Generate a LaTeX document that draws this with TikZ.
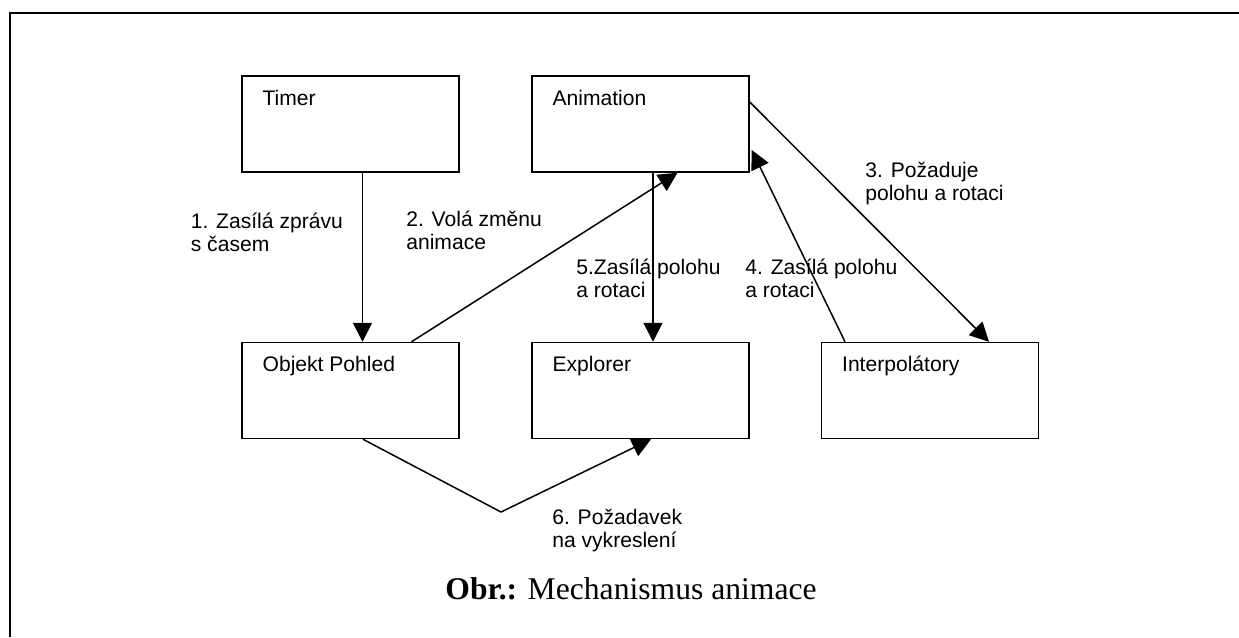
\documentclass[tikz,border=0pt]{standalone}
\usepackage{fontspec}
\setmainfont{Liberation Sans}
\newfontfamily\capfont{Liberation Serif}
\usetikzlibrary{arrows.meta}

\begin{document}
\begin{tikzpicture}[x=0.02cm, y=-0.02cm,
    box/.style={draw, line width=0.85pt, minimum width=4.34cm, minimum height=1.92cm, inner sep=0pt},
    boxtext/.style={anchor=base west, inner sep=0pt, font=\fontsize{12}{13}\selectfont},
    msg/.style={anchor=base west, inner sep=0pt, align=left, font=\fontsize{12}{12.6}\selectfont},
    arr/.style={line width=0.85pt, -{Triangle[length=10.8pt, width=10.8pt]}}]
  \useasboundingbox (0,0) rectangle (1239,637);
  \draw[line width=1.15pt] (10,637) -- (10,13) -- (1239,13);

  \node[box] (timer) at (350.5,124) {};
  \node[box] (anim) at (640.5,124) {};
  \node[box] (objekt) at (350.5,390.5) {};
  \node[box] (explorer) at (640.5,390.5) {};
  \node[box] (interp) at (930,390.5) {};

  \node[boxtext] (timertxt) at ([shift={(21,30)}]timer.north west) {Timer};
  \node[boxtext] (animtxt) at ([shift={(21,30)}]anim.north west) {Animation};
  \node[boxtext] (objekttxt) at ([shift={(21,30)}]objekt.north west) {Objekt Pohled};
  \node[boxtext] (explorertxt) at ([shift={(21,30)}]explorer.north west) {Explorer};
  \node[boxtext] (interptxt) at ([shift={(21,30)}]interp.north west) {Interpolátory};

  \draw[arr] ([shift={(12,0)}]timer.south) -- ([shift={(12,0)}]objekt.north);
  \draw[arr] ([shift={(61,0)}]objekt.north) -- ([shift={(37,0)}]anim.south);
  \draw[arr] ([shift={(0,-22)}]anim.east) -- ([shift={(59,0)}]interp.north);
  \draw[arr] ([shift={(-85,0)}]interp.north) -- ([shift={(2,26)}]anim.east);
  \draw[arr] ([shift={(12.5,0)}]anim.south) -- ([shift={(12.5,0)}]explorer.north);
  \coordinate (bend) at (501,512);
  \draw[arr] ([shift={(12.5,0)}]objekt.south) -- (bend) -- ([shift={(10.5,0)}]explorer.south);

  \node[msg] (m1) at (190.5,251) {1. Zasílá zprávu\\s časem};
  \node[msg] (m2) at (406,249) {2. Volá změnu\\animace};
  \node[msg] (m3) at (865,200) {3. Požaduje\\polohu a rotaci};
  \node[msg] (m4) at (745,297) {4. Zasílá polohu\\a rotaci};
  \node[msg] (m5) at (576,297) {5.Zasílá polohu\\a rotaci};
  \node[msg] (m6) at (552,547) {6. Požadavek\\na vykreslení};

  \node[anchor=base, inner sep=0pt, font=\capfont\fontsize{18}{21}\selectfont] (caption) at (631,599) {\textbf{Obr.:} Mechanismus animace};
\end{tikzpicture}
\end{document}
